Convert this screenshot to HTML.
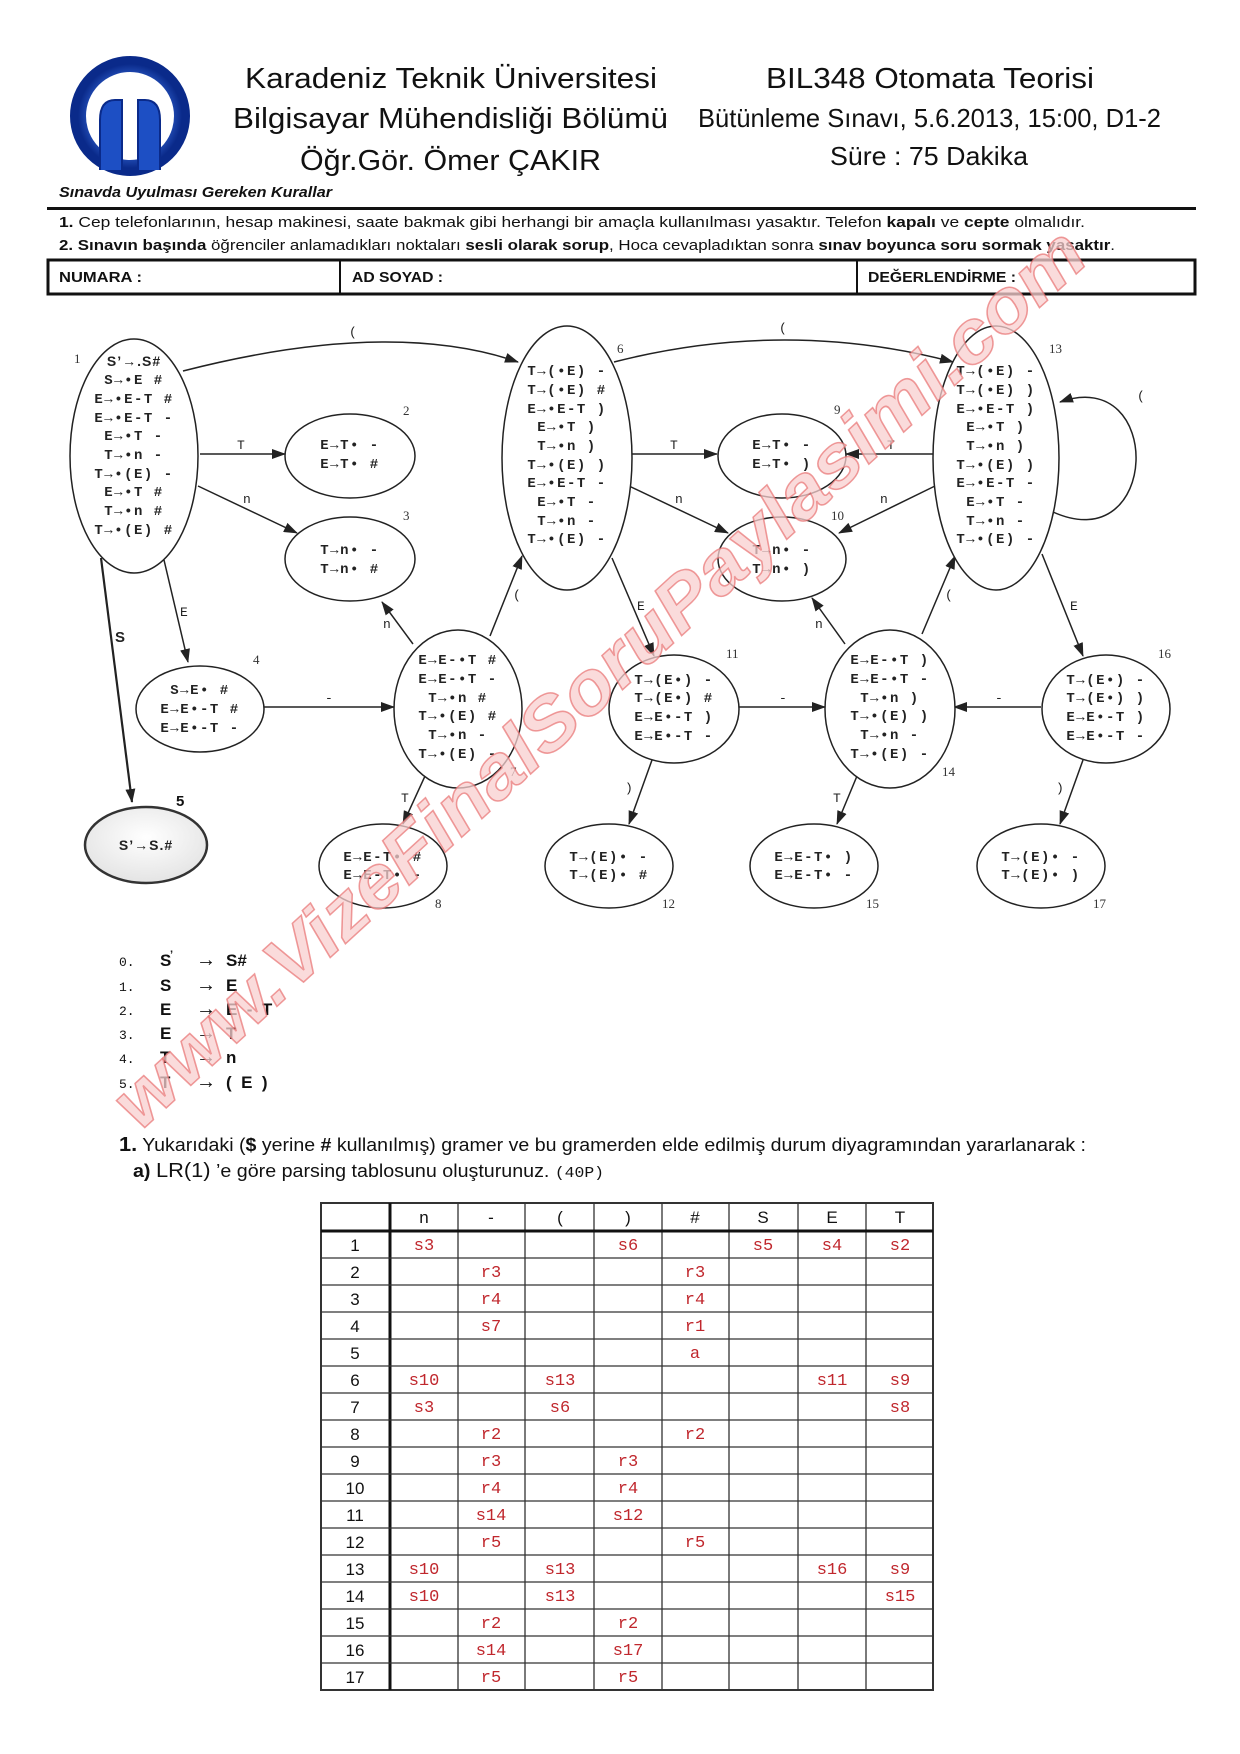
<!DOCTYPE html>
<html><head><meta charset="utf-8"><style>
html,body{margin:0;padding:0;background:#fff}
svg{display:block}
.h{font-family:"Liberation Sans Narrow","Liberation Sans",sans-serif;fill:#111}
.m{font-family:"Liberation Mono","DejaVu Sans Mono",monospace;font-weight:bold;font-size:14px;fill:#222;letter-spacing:1.5px}
.nl{font-family:"Liberation Serif",serif;font-size:13px;fill:#333}
.el{font-family:"Liberation Mono",monospace;font-size:13px;fill:#222}
.tb{font-family:"Liberation Sans Narrow","Liberation Sans",sans-serif;font-size:17px;fill:#111}
.rv{font-family:"Liberation Mono",monospace;font-size:17px;fill:#c0272d}
</style></head><body>
<svg width="1240" height="1754" viewBox="0 0 1240 1754" xmlns="http://www.w3.org/2000/svg">
<defs>
<marker id="a" markerWidth="14" markerHeight="10" refX="13" refY="5" orient="auto" markerUnits="userSpaceOnUse"><path d="M0,0 L14,5 L0,10 z" fill="#222"/></marker>
<radialGradient id="g5" cx="50%" cy="40%" r="60%"><stop offset="0" stop-color="#fff"/><stop offset="1" stop-color="#e4e4e4"/></radialGradient>
<radialGradient id="lg" cx="50%" cy="50%" r="50%"><stop offset="0.6" stop-color="#3a6fe0"/><stop offset="1" stop-color="#0a2a8a"/></radialGradient>
</defs>

<!-- logo -->
<circle cx="130" cy="116" r="52" fill="none" stroke="url(#lg)" stroke-width="16"/>
<path d="M100,170 L100,120 Q100,100 115,100 L122,100 L122,170 M160,170 L160,120 Q160,100 145,100 L138,100 L138,170" fill="#1d4fc4" stroke="#0a2a8a" stroke-width="2"/>

<!-- header -->
<text class="h" x="245" y="88" font-size="29" textLength="412" lengthAdjust="spacingAndGlyphs">Karadeniz Teknik Üniversitesi</text>
<text class="h" x="233" y="128" font-size="29" textLength="435" lengthAdjust="spacingAndGlyphs">Bilgisayar Mühendisliği Bölümü</text>
<text class="h" x="300" y="170" font-size="29" textLength="301" lengthAdjust="spacingAndGlyphs">Öğr.Gör. Ömer ÇAKIR</text>
<text class="h" x="766" y="88" font-size="29" textLength="328" lengthAdjust="spacingAndGlyphs">BIL348 Otomata Teorisi</text>
<text class="h" x="698" y="127" font-size="26" textLength="463" lengthAdjust="spacingAndGlyphs">Bütünleme Sınavı, 5.6.2013, 15:00, D1-2</text>
<text class="h" x="830" y="165" font-size="26" textLength="198" lengthAdjust="spacingAndGlyphs">Süre : 75 Dakika</text>
<text class="h" x="59" y="197" font-size="15" font-weight="bold" font-style="italic" textLength="273" lengthAdjust="spacingAndGlyphs">Sınavda Uyulması Gereken Kurallar</text>
<rect x="47" y="207" width="1149" height="3" fill="#111"/>
<text class="h" x="59" y="227" font-size="15" textLength="1026" lengthAdjust="spacingAndGlyphs"><tspan font-weight="bold">1.</tspan> Cep telefonlarının, hesap makinesi, saate bakmak gibi herhangi bir amaçla kullanılması yasaktır. Telefon <tspan font-weight="bold">kapalı</tspan> ve <tspan font-weight="bold">cepte</tspan> olmalıdır.</text>
<text class="h" x="59" y="250" font-size="15" textLength="1056" lengthAdjust="spacingAndGlyphs"><tspan font-weight="bold">2. Sınavın başında</tspan> öğrenciler anlamadıkları noktaları <tspan font-weight="bold">sesli olarak sorup</tspan>, Hoca cevapladıktan sonra <tspan font-weight="bold">sınav boyunca soru sormak yasaktır</tspan>.</text>
<rect x="48" y="260" width="1147" height="34" fill="none" stroke="#111" stroke-width="3"/>
<line x1="340" y1="260" x2="340" y2="294" stroke="#111" stroke-width="2"/>
<line x1="857" y1="260" x2="857" y2="294" stroke="#111" stroke-width="2"/>
<text class="h" x="59" y="282" font-size="15" font-weight="bold" textLength="83" lengthAdjust="spacingAndGlyphs">NUMARA :</text>
<text class="h" x="352" y="282" font-size="15" font-weight="bold" textLength="91" lengthAdjust="spacingAndGlyphs">AD SOYAD :</text>
<text class="h" x="868" y="282" font-size="15" font-weight="bold" textLength="148" lengthAdjust="spacingAndGlyphs">DEĞERLENDİRME :</text>

<!-- edges -->
<g stroke="#222" stroke-width="1.5" fill="none" marker-end="url(#a)">
<path d="M183,371 Q390,318 518,362"/>
<path d="M614,362 Q786,318 953,362"/>
<line x1="200" y1="454" x2="285" y2="454"/>
<line x1="198" y1="486" x2="297" y2="533"/>
<line x1="164" y1="560" x2="188" y2="662"/>
<line x1="101" y1="558" x2="132" y2="802" stroke-width="2.2"/>
<line x1="263" y1="707" x2="394" y2="707"/>
<line x1="413" y1="644" x2="382" y2="602"/>
<line x1="490" y1="636" x2="522" y2="556"/>
<line x1="425" y1="776" x2="403" y2="824"/>
<line x1="632" y1="454" x2="717" y2="454"/>
<line x1="629" y1="486" x2="728" y2="533"/>
<line x1="935" y1="454" x2="846" y2="454"/>
<line x1="935" y1="486" x2="839" y2="533"/>
<path d="M1053,512 C1160,560 1165,365 1060,402"/>
<line x1="612" y1="558" x2="654" y2="656"/>
<line x1="739" y1="707" x2="825" y2="707"/>
<line x1="1041" y1="707" x2="954" y2="707"/>
<line x1="845" y1="644" x2="812" y2="598"/>
<line x1="922" y1="634" x2="955" y2="556"/>
<line x1="1042" y1="554" x2="1083" y2="656"/>
<line x1="652" y1="760" x2="629" y2="824"/>
<line x1="857" y1="776" x2="837" y2="824"/>
<line x1="1083" y1="760" x2="1060" y2="824"/>
</g>
<!-- edge labels -->
<g class="el">
<text x="349" y="336">(</text><text x="237" y="449">T</text><text x="243" y="503">n</text><text x="180" y="616">E</text>
<text x="115" y="642" font-family="Liberation Sans" font-weight="bold" font-size="15">S</text>
<text x="325" y="702">-</text><text x="383" y="628">n</text><text x="513" y="599">(</text><text x="401" y="802">T</text>
<text x="779" y="332">(</text><text x="670" y="449">T</text><text x="675" y="503">n</text><text x="887" y="449">T</text><text x="880" y="503">n</text>
<text x="1137" y="400">(</text><text x="637" y="610">E</text><text x="779" y="702">-</text><text x="995" y="702">-</text>
<text x="815" y="628">n</text><text x="945" y="599">(</text><text x="1070" y="610">E</text>
<text x="625" y="792">)</text><text x="833" y="802">T</text><text x="1056" y="792">)</text>
</g>

<!-- nodes -->
<g fill="#fff" stroke="#222" stroke-width="1.5">
<ellipse cx="134" cy="456" rx="64" ry="117"/>
<ellipse cx="350" cy="456" rx="65" ry="42"/>
<ellipse cx="350" cy="559" rx="65" ry="42"/>
<ellipse cx="200" cy="709" rx="64" ry="43"/>
<ellipse cx="458" cy="709" rx="64" ry="79"/>
<ellipse cx="383" cy="866" rx="64" ry="42"/>
<ellipse cx="567" cy="458" rx="65" ry="132"/>
<ellipse cx="996" cy="458" rx="63" ry="132"/>
<ellipse cx="782" cy="456" rx="64" ry="42"/>
<ellipse cx="782" cy="559" rx="64" ry="42"/>
<ellipse cx="674" cy="709" rx="65" ry="54"/>
<ellipse cx="890" cy="709" rx="65" ry="79"/>
<ellipse cx="1106" cy="709" rx="64" ry="54"/>
<ellipse cx="609" cy="866" rx="64" ry="42"/>
<ellipse cx="814" cy="866" rx="64" ry="42"/>
<ellipse cx="1041" cy="866" rx="64" ry="42"/>
</g>
<ellipse cx="146" cy="845" rx="61" ry="38" fill="url(#g5)" stroke="#333" stroke-width="2.5"/>

<g class="m" text-anchor="middle">
<text x="134" y="366" font-family="Liberation Sans" font-size="14" letter-spacing="1">S’→.S#</text>
<text x="134" y="384">S→•E #</text><text x="134" y="403">E→•E-T #</text><text x="134" y="422">E→•E-T -</text>
<text x="134" y="440">E→•T -</text><text x="134" y="459">T→•n -</text><text x="134" y="478">T→•(E) -</text>
<text x="134" y="496">E→•T #</text><text x="134" y="515">T→•n #</text><text x="134" y="534">T→•(E) #</text>

<text x="350" y="449">E→T• -</text><text x="350" y="468">E→T• #</text>
<text x="350" y="554">T→n• -</text><text x="350" y="573">T→n• #</text>
<text x="200" y="694">S→E• #</text><text x="200" y="713">E→E•-T #</text><text x="200" y="732">E→E•-T -</text>
<text x="458" y="664">E→E-•T #</text><text x="458" y="683">E→E-•T -</text><text x="458" y="702">T→•n #</text>
<text x="458" y="720">T→•(E) #</text><text x="458" y="739">T→•n -</text><text x="458" y="758">T→•(E) -</text>
<text x="383" y="861">E→E-T• #</text><text x="383" y="879">E→E-T• -</text>

<text x="567" y="375">T→(•E) -</text><text x="567" y="394">T→(•E) #</text><text x="567" y="413">E→•E-T )</text>
<text x="567" y="431">E→•T )</text><text x="567" y="450">T→•n )</text><text x="567" y="469">T→•(E) )</text>
<text x="567" y="487">E→•E-T -</text><text x="567" y="506">E→•T -</text><text x="567" y="525">T→•n -</text><text x="567" y="543">T→•(E) -</text>

<text x="996" y="375">T→(•E) -</text><text x="996" y="394">T→(•E) )</text><text x="996" y="413">E→•E-T )</text>
<text x="996" y="431">E→•T )</text><text x="996" y="450">T→•n )</text><text x="996" y="469">T→•(E) )</text>
<text x="996" y="487">E→•E-T -</text><text x="996" y="506">E→•T -</text><text x="996" y="525">T→•n -</text><text x="996" y="543">T→•(E) -</text>

<text x="782" y="449">E→T• -</text><text x="782" y="468">E→T• )</text>
<text x="782" y="554">T→n• -</text><text x="782" y="573">T→n• )</text>
<text x="674" y="684">T→(E•) -</text><text x="674" y="702">T→(E•) #</text><text x="674" y="721">E→E•-T )</text><text x="674" y="740">E→E•-T -</text>
<text x="890" y="664">E→E-•T )</text><text x="890" y="683">E→E-•T -</text><text x="890" y="702">T→•n )</text>
<text x="890" y="720">T→•(E) )</text><text x="890" y="739">T→•n -</text><text x="890" y="758">T→•(E) -</text>
<text x="1106" y="684">T→(E•) -</text><text x="1106" y="702">T→(E•) )</text><text x="1106" y="721">E→E•-T )</text><text x="1106" y="740">E→E•-T -</text>
<text x="609" y="861">T→(E)• -</text><text x="609" y="879">T→(E)• #</text>
<text x="814" y="861">E→E-T• )</text><text x="814" y="879">E→E-T• -</text>
<text x="1041" y="861">T→(E)• -</text><text x="1041" y="879">T→(E)• )</text>
<text x="146" y="850" font-family="Liberation Sans" font-size="14" letter-spacing="1">S’→S.#</text>
</g>

<!-- node numbers -->
<g class="nl">
<text x="74" y="363">1</text><text x="403" y="415">2</text><text x="403" y="520">3</text><text x="253" y="664">4</text>
<text x="176" y="806" font-family="Liberation Sans" font-weight="bold" font-size="15" fill="#111">5</text>
<text x="617" y="353">6</text><text x="510" y="776">7</text><text x="435" y="908">8</text>
<text x="834" y="414">9</text><text x="831" y="520">10</text><text x="726" y="658">11</text>
<text x="662" y="908">12</text><text x="1049" y="353">13</text><text x="942" y="776">14</text>
<text x="866" y="908">15</text><text x="1158" y="658">16</text><text x="1093" y="908">17</text>
</g>

<!-- grammar -->
<g font-family="Liberation Sans Narrow, Liberation Sans, sans-serif" font-size="17" font-weight="bold" fill="#111">
<text x="119" y="966" font-family="Liberation Mono" font-weight="normal" font-size="13">0.</text>
<text x="160" y="966">S</text><text x="170" y="958" font-size="11">’</text><text x="196" y="966" font-size="20">→</text><text x="226" y="966">S#</text>
<text x="119" y="991" font-family="Liberation Mono" font-weight="normal" font-size="13">1.</text>
<text x="160" y="991">S</text><text x="196" y="991" font-size="20">→</text><text x="226" y="991">E</text>
<text x="119" y="1015" font-family="Liberation Mono" font-weight="normal" font-size="13">2.</text>
<text x="160" y="1015">E</text><text x="196" y="1015" font-size="20">→</text><text x="226" y="1015" xml:space="preserve">E  -  T</text>
<text x="119" y="1039" font-family="Liberation Mono" font-weight="normal" font-size="13">3.</text>
<text x="160" y="1039">E</text><text x="196" y="1039" font-size="20">→</text><text x="226" y="1039">T</text>
<text x="119" y="1063" font-family="Liberation Mono" font-weight="normal" font-size="13">4.</text>
<text x="160" y="1063">T</text><text x="196" y="1063" font-size="20">→</text><text x="226" y="1063">n</text>
<text x="119" y="1088" font-family="Liberation Mono" font-weight="normal" font-size="13">5.</text>
<text x="160" y="1088">T</text><text x="196" y="1088" font-size="20">→</text><text x="226" y="1088" xml:space="preserve">(  E  )</text>
</g>
<text class="h" x="119" y="1151" font-size="18" textLength="967" lengthAdjust="spacingAndGlyphs"><tspan font-weight="bold" font-size="20">1.</tspan> Yukarıdaki (<tspan font-weight="bold">$</tspan> yerine <tspan font-weight="bold">#</tspan> kullanılmış) gramer ve bu gramerden elde edilmiş durum diyagramından yararlanarak :</text>
<text class="h" x="133" y="1177" font-size="18" textLength="471" lengthAdjust="spacingAndGlyphs"><tspan font-weight="bold">a)</tspan> <tspan font-size="20">LR(1)</tspan> ’e göre parsing tablosunu oluşturunuz. <tspan font-family="Liberation Mono" font-size="15">(40P)</tspan></text>

<!-- table -->
<g stroke="#333" stroke-width="1.3">
<rect x="321" y="1203" width="612" height="487" fill="none" stroke-width="2"/>
<line x1="390" y1="1203" x2="390" y2="1690" stroke-width="3" stroke="#111"/>
<line x1="458" y1="1203" x2="458" y2="1690"/><line x1="525" y1="1203" x2="525" y2="1690"/>
<line x1="594" y1="1203" x2="594" y2="1690"/><line x1="662" y1="1203" x2="662" y2="1690"/>
<line x1="729" y1="1203" x2="729" y2="1690"/><line x1="798" y1="1203" x2="798" y2="1690"/>
<line x1="866" y1="1203" x2="866" y2="1690"/>
<line x1="321" y1="1231" x2="933" y2="1231" stroke-width="3" stroke="#111"/>
<line x1="321" y1="1258" x2="933" y2="1258"/><line x1="321" y1="1285" x2="933" y2="1285"/>
<line x1="321" y1="1312" x2="933" y2="1312"/><line x1="321" y1="1339" x2="933" y2="1339"/>
<line x1="321" y1="1366" x2="933" y2="1366"/><line x1="321" y1="1393" x2="933" y2="1393"/>
<line x1="321" y1="1420" x2="933" y2="1420"/><line x1="321" y1="1447" x2="933" y2="1447"/>
<line x1="321" y1="1474" x2="933" y2="1474"/><line x1="321" y1="1501" x2="933" y2="1501"/>
<line x1="321" y1="1528" x2="933" y2="1528"/><line x1="321" y1="1555" x2="933" y2="1555"/>
<line x1="321" y1="1582" x2="933" y2="1582"/><line x1="321" y1="1609" x2="933" y2="1609"/>
<line x1="321" y1="1636" x2="933" y2="1636"/><line x1="321" y1="1663" x2="933" y2="1663"/>
</g>
<g class="tb" text-anchor="middle">
<text x="424" y="1223">n</text><text x="491" y="1223">-</text><text x="560" y="1223">(</text><text x="628" y="1223">)</text>
<text x="695" y="1223">#</text><text x="763" y="1223">S</text><text x="832" y="1223">E</text><text x="900" y="1223">T</text>
<text x="355" y="1251">1</text><text x="355" y="1278">2</text><text x="355" y="1305">3</text><text x="355" y="1332">4</text>
<text x="355" y="1359">5</text><text x="355" y="1386">6</text><text x="355" y="1413">7</text><text x="355" y="1440">8</text>
<text x="355" y="1467">9</text><text x="355" y="1494">10</text><text x="355" y="1521">11</text><text x="355" y="1548">12</text>
<text x="355" y="1575">13</text><text x="355" y="1602">14</text><text x="355" y="1629">15</text><text x="355" y="1656">16</text>
<text x="355" y="1683">17</text>
</g>
<g class="rv" text-anchor="middle">
<text x="424" y="1250">s3</text><text x="628" y="1250">s6</text><text x="763" y="1250">s5</text><text x="832" y="1250">s4</text><text x="900" y="1250">s2</text>
<text x="491" y="1277">r3</text><text x="695" y="1277">r3</text>
<text x="491" y="1304">r4</text><text x="695" y="1304">r4</text>
<text x="491" y="1331">s7</text><text x="695" y="1331">r1</text>
<text x="695" y="1358">a</text>
<text x="424" y="1385">s10</text><text x="560" y="1385">s13</text><text x="832" y="1385">s11</text><text x="900" y="1385">s9</text>
<text x="424" y="1412">s3</text><text x="560" y="1412">s6</text><text x="900" y="1412">s8</text>
<text x="491" y="1439">r2</text><text x="695" y="1439">r2</text>
<text x="491" y="1466">r3</text><text x="628" y="1466">r3</text>
<text x="491" y="1493">r4</text><text x="628" y="1493">r4</text>
<text x="491" y="1520">s14</text><text x="628" y="1520">s12</text>
<text x="491" y="1547">r5</text><text x="695" y="1547">r5</text>
<text x="424" y="1574">s10</text><text x="560" y="1574">s13</text><text x="832" y="1574">s16</text><text x="900" y="1574">s9</text>
<text x="424" y="1601">s10</text><text x="560" y="1601">s13</text><text x="900" y="1601">s15</text>
<text x="491" y="1628">r2</text><text x="628" y="1628">r2</text>
<text x="491" y="1655">s14</text><text x="628" y="1655">s17</text>
<text x="491" y="1682">r5</text><text x="628" y="1682">r5</text>
</g>

<!-- watermark -->
<text x="0" y="0" transform="translate(140,1132) rotate(-42.5)" font-family="Liberation Sans, sans-serif" font-size="74" font-weight="bold" font-style="italic" fill="#f8cfcf" fill-opacity="0.75" stroke="#e87272" stroke-opacity="0.7" stroke-width="1.5" textLength="1290" lengthAdjust="spacingAndGlyphs">www.VizeFinalSoruPaylasimi.com</text>
</svg>
</body></html>
